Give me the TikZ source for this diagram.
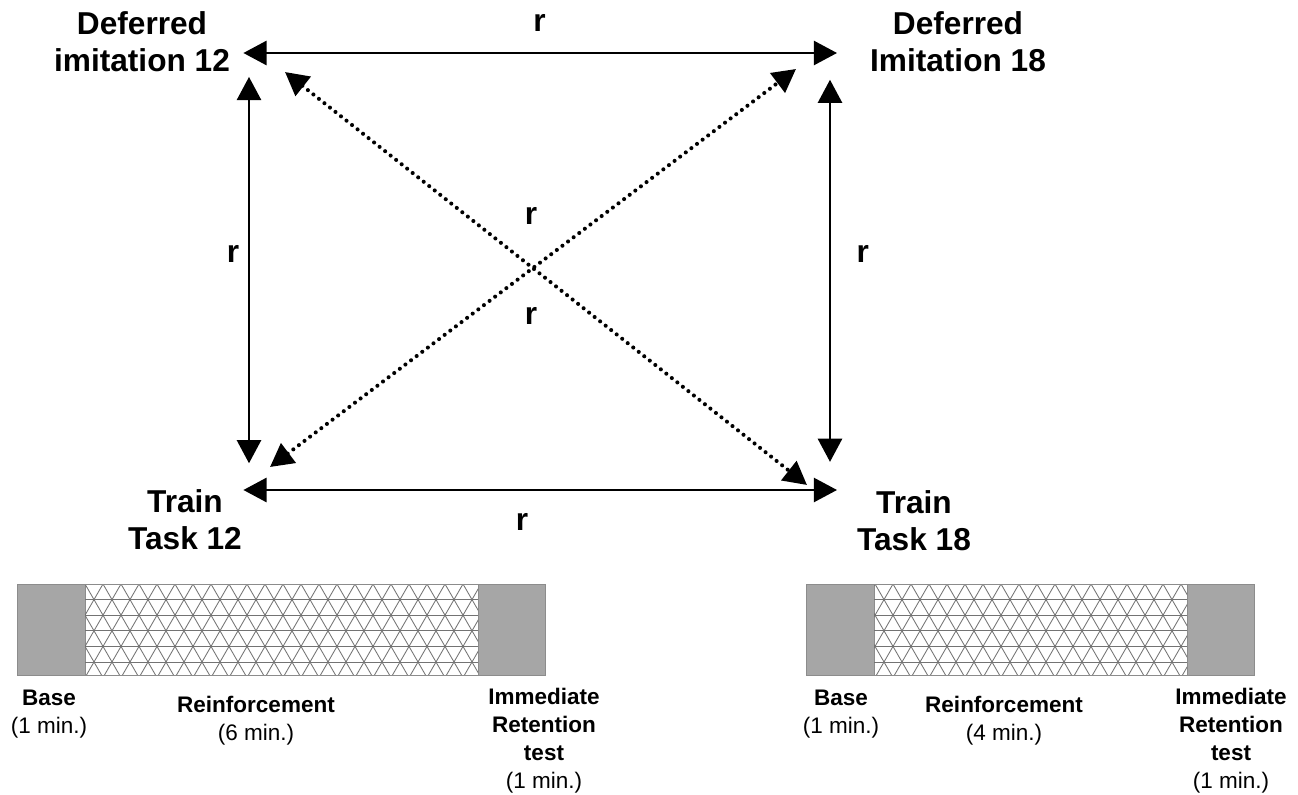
\documentclass[tikz,border=0pt]{standalone}
\usepackage{fontspec}
\setmainfont{Liberation Sans}
\usetikzlibrary{arrows.meta, positioning, calc}
\tikzstyle{title} = [align=center, inner sep=0pt, font=\bfseries\fontsize{22.5}{26.5}\selectfont]
\tikzstyle{rlabel} = [inner sep=0pt, font=\bfseries\fontsize{22.5}{26.5}\selectfont]
\tikzstyle{phase} = [align=center, inner sep=0pt, anchor=north, font=\fontsize{16}{19.8}\selectfont]
\tikzstyle{arrow} = [line width=2pt, <->, >={Triangle[length=5.8mm, width=6mm]}]
\tikzstyle{dotarrow} = [arrow, line width=2.9pt, line cap=round, dash pattern=on 0pt off 5pt]
\tikzstyle{solidpart} = [fill=black!35, draw=black!45, line width=0.6pt]
\tikzstyle{hatchline} = [draw=black!55, line width=0.6pt]

\begin{document}
\begin{tikzpicture}[x=0.025cm, y=-0.025cm]
	\useasboundingbox (0,0) rectangle (1298,795);
	% corners of the square
	\coordinate (ul) at (249,53);
	\coordinate (ur) at (830,53);
	\coordinate (ll) at (249,490);
	\coordinate (lr) at (830,490);
	\node (di12) [title] at (142,42) {Deferred\\imitation 12};
	\node (di18) [title] at (958,42) {Deferred\\Imitation 18};
	\node (tt12) [title] at (185,520) {Train\\Task 12};
	\node (tt18) [title] at (914,521) {Train\\Task 18};
	\draw [arrow, shorten <=-4pt, shorten >=-5pt] (ul) -- node[rlabel, above=14pt] (rtop) {r} (ur);
	\draw [arrow, shorten <=-4pt, shorten >=-5pt] (ll) -- node[rlabel, below=15.5pt, pos=0.47] (rbot) {r} (lr);
	\draw [arrow, shorten <=17pt, shorten >=19pt] (ul) -- node[rlabel, left=6pt, pos=0.46] (rleft) {r} (ll);
	\draw [arrow, shorten <=19pt, shorten >=20pt] (ur) -- node[rlabel, right=18pt, pos=0.46] (rright) {r} (lr);
	\draw [dotarrow] ($(ul)+(36,19)$) -- ($(lr)+(-23,-5)$);
	\draw [dotarrow] ($(ll)+(21,-23)$) -- ($(ur)+(-34,16)$);
	\node (rup) [rlabel] at (531,216) {r};
	\node (rdown) [rlabel] at (531,316) {r};

	% session bar 12
	\draw [solidpart] (17,584) rectangle (85,675);
	\draw [solidpart] (478,584) rectangle (545,675);
	\begin{scope}
		\clip (85,584) rectangle (478,675);
		\foreach \x in {31,49,...,535} {
			\draw [hatchline] (\x,584) -- ++(52.5,91);
			\draw [hatchline] (\x,584) -- ++(-52.5,91);
		}
		\foreach \y in {584,599.6,...,675} \draw [hatchline] (85,\y) -- (478,\y);
	\end{scope}
	\draw [draw=black!45, line width=0.6pt] (17,584) rectangle (545,675);
	\node (base12) [phase] at (49,690) {\textbf{Base}\\(1 min.)};
	\node (reinf12) [phase] at (256,696) {\textbf{Reinforcement}\\(6 min.)};
	\node (imm12) [phase] at (544,688) {\textbf{Immediate}\\\textbf{Retention}\\\textbf{test}\\(1 min.)};

	% session bar 18
	\draw [solidpart] (806,584) rectangle (874,675);
	\draw [solidpart] (1187,584) rectangle (1254,675);
	\begin{scope}
		\clip (874,584) rectangle (1187,675);
		\foreach \x in {821,839,...,1241} {
			\draw [hatchline] (\x,584) -- ++(52.5,91);
			\draw [hatchline] (\x,584) -- ++(-52.5,91);
		}
		\foreach \y in {584,599.6,...,675} \draw [hatchline] (874,\y) -- (1187,\y);
	\end{scope}
	\draw [draw=black!45, line width=0.6pt] (806,584) rectangle (1254,675);
	\node (base18) [phase] at (841,690) {\textbf{Base}\\(1 min.)};
	\node (reinf18) [phase] at (1004,696) {\textbf{Reinforcement}\\(4 min.)};
	\node (imm18) [phase] at (1231,688) {\textbf{Immediate}\\\textbf{Retention}\\\textbf{test}\\(1 min.)};
\end{tikzpicture}
\end{document}
